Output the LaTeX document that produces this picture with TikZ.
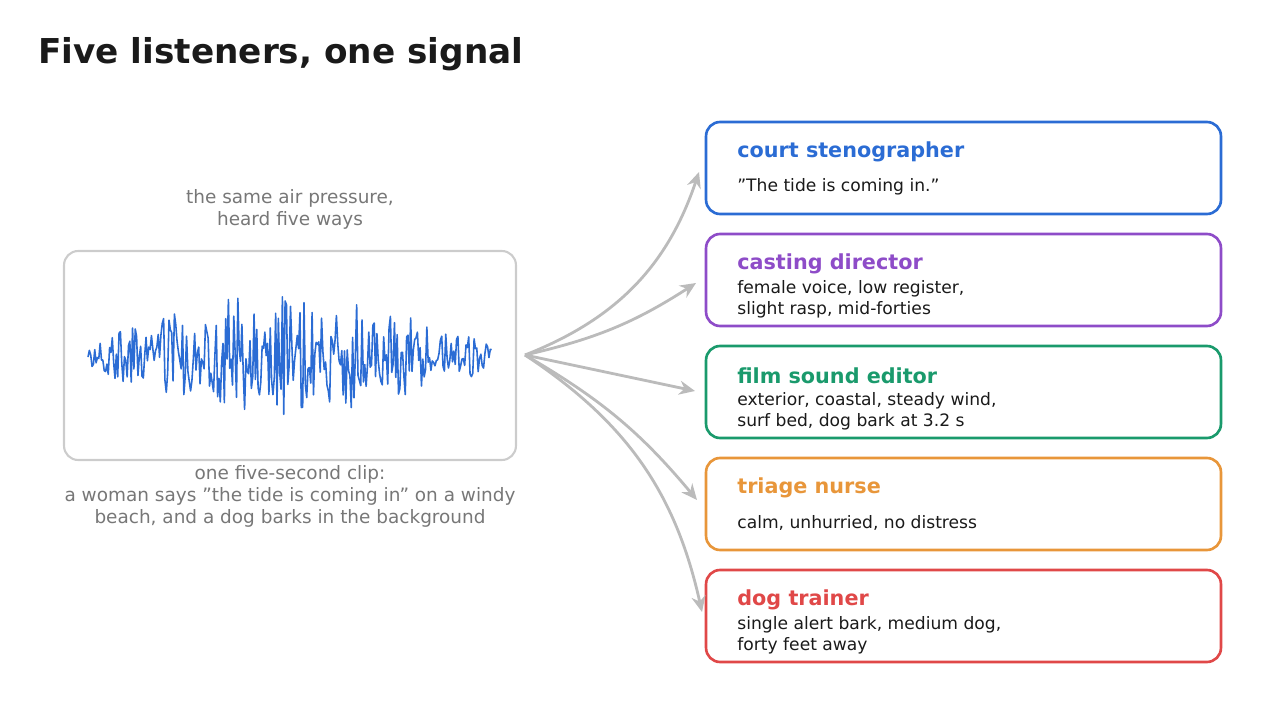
\documentclass[tikz,border=0pt]{standalone}
\usepackage{fontspec}
\setmainfont{DejaVu Sans}
\usetikzlibrary{arrows.meta}
\newcommand\dq{\symbol{34}}
\definecolor{cblue}{HTML}{2B6CD4}
\definecolor{cpurple}{HTML}{8E4CC8}
\definecolor{cgreen}{HTML}{1A9A6C}
\definecolor{corange}{HTML}{E8963A}
\definecolor{cred}{HTML}{E04848}
\definecolor{ctext}{HTML}{1A1A1A}
\definecolor{cgray}{HTML}{777777}
\definecolor{carrow}{HTML}{BBBBBB}
\tikzset{
  listener/.style={draw=#1, line width=1.5pt, rounded corners=8pt, minimum width=10.3cm, minimum height=1.84cm},
  role/.style={anchor=west, font=\bfseries\fontsize{11.8}{14}\selectfont, inner sep=0pt},
  says/.style={anchor=west, align=left, font=\fontsize{9.75}{11.9}\selectfont, text=ctext, inner sep=0pt},
  caption/.style={align=center, font=\fontsize{10.5}{12.5}\selectfont, text=cgray},
  hear/.style={-{Stealth[length=9pt,width=8pt]}, draw=carrow, line width=1.6pt}
}
\begin{document}
\begin{tikzpicture}[x=0.02cm, y=-0.02cm]
  \useasboundingbox (0,0) rectangle (1285,726);
  \node[anchor=west, font=\bfseries\fontsize{19.5}{23}\selectfont, text=ctext, inner sep=0pt] (title) at (38,54) {Five listeners, one signal};

  % the clip
  \node[draw=black!20, line width=1.2pt, rounded corners=8pt, minimum width=9.04cm, minimum height=4.18cm] (clip) at (290,355.5) {};
  \node[caption] (top) at (290,209) {the same air pressure,\\heard five ways};
  \node[caption] (bottom) at (290,496) {one five-second clip:\\a woman says \dq the tide is coming in\dq{} on a windy\\beach, and a dog barks in the background};
  \pgfmathsetseed{7}
  \draw[cblue, line width=0.9pt, line join=round] plot[samples=300, domain=0:1]
    ({88+404*\x}, {355 + 62*rand*(0.25+0.75*sin(180*\x))*(0.6+0.4*abs(sin(1250*\x)))});

  \coordinate (src) at (525,355);

  % the listeners
  \foreach \n/\y/\c/\r in {steno/168/cblue/court stenographer, casting/280/cpurple/casting director,
      sound/392/cgreen/film sound editor, nurse/504/corange/triage nurse, trainer/616/cred/dog trainer}{
    \node[listener=\c] (\n) at (963.5,\y) {};
    \node[role, text=\c] (\n-role) at (737,\y-16) {\r};
  }
  \node[says] at (737,187) {\dq The tide is coming in.\dq};
  \node[says] at (737,299) {female voice, low register,\\slight rasp, mid-forties};
  \node[says] at (737,411) {exterior, coastal, steady wind,\\surf bed, dog bark at 3.2 s};
  \node[says] at (737,523) {calm, unhurried, no distress};
  \node[says] at (737,635) {single alert bark, medium dog,\\forty feet away};

  \draw[hear] (src) to[bend right=25] (699,172);
  \draw[hear] (src) to[bend right=10] (696,283);
  \draw[hear] (src) -- (695,391);
  \draw[hear] (src) to[bend left=10] (697,500);
  \draw[hear] (src) to[bend left=22] (702,612);
\end{tikzpicture}
\end{document}
